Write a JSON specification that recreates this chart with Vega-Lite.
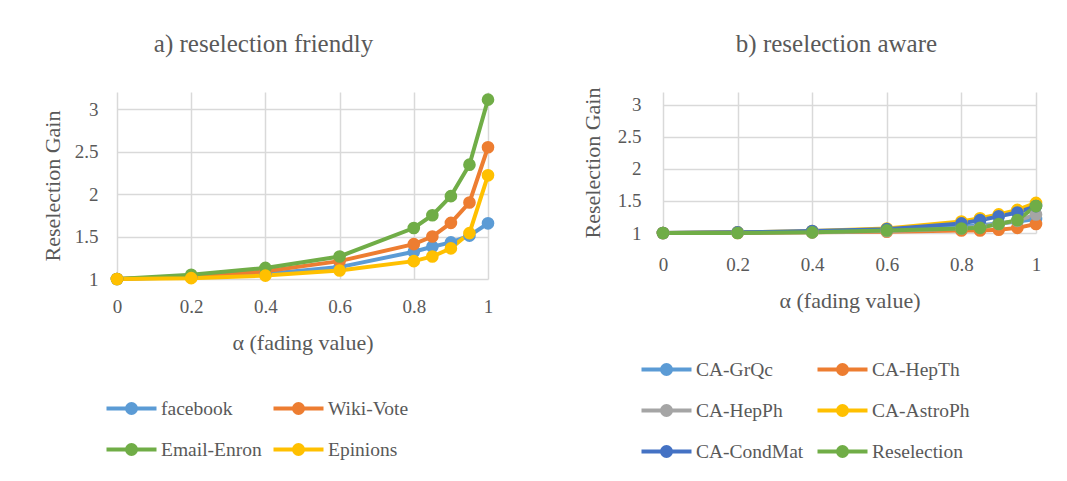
{
  "$schema": "https://vega.github.io/schema/vega-lite/v6.json",
  "background": "white",
  "padding": {"left": 41, "top": 31, "right": 5, "bottom": 5},
  "spacing": 175,
  "bounds": "flush",
  "datasets": {
    "friendly": [
      {"series": "facebook", "alpha": 0, "gain": 1.0},
      {"series": "facebook", "alpha": 0.2, "gain": 1.02},
      {"series": "facebook", "alpha": 0.4, "gain": 1.06},
      {"series": "facebook", "alpha": 0.6, "gain": 1.14},
      {"series": "facebook", "alpha": 0.8, "gain": 1.32},
      {"series": "facebook", "alpha": 0.85, "gain": 1.38},
      {"series": "facebook", "alpha": 0.9, "gain": 1.43},
      {"series": "facebook", "alpha": 0.95, "gain": 1.51},
      {"series": "facebook", "alpha": 1, "gain": 1.655},
      {"series": "Wiki-Vote", "alpha": 0, "gain": 1.0},
      {"series": "Wiki-Vote", "alpha": 0.2, "gain": 1.03},
      {"series": "Wiki-Vote", "alpha": 0.4, "gain": 1.09},
      {"series": "Wiki-Vote", "alpha": 0.6, "gain": 1.21},
      {"series": "Wiki-Vote", "alpha": 0.8, "gain": 1.41},
      {"series": "Wiki-Vote", "alpha": 0.85, "gain": 1.5},
      {"series": "Wiki-Vote", "alpha": 0.9, "gain": 1.66},
      {"series": "Wiki-Vote", "alpha": 0.95, "gain": 1.9},
      {"series": "Wiki-Vote", "alpha": 1, "gain": 2.55},
      {"series": "Email-Enron", "alpha": 0, "gain": 1.0},
      {"series": "Email-Enron", "alpha": 0.2, "gain": 1.05},
      {"series": "Email-Enron", "alpha": 0.4, "gain": 1.13},
      {"series": "Email-Enron", "alpha": 0.6, "gain": 1.265},
      {"series": "Email-Enron", "alpha": 0.8, "gain": 1.6},
      {"series": "Email-Enron", "alpha": 0.85, "gain": 1.75},
      {"series": "Email-Enron", "alpha": 0.9, "gain": 1.975},
      {"series": "Email-Enron", "alpha": 0.95, "gain": 2.345},
      {"series": "Email-Enron", "alpha": 1, "gain": 3.11},
      {"series": "Epinions", "alpha": 0, "gain": 1.0},
      {"series": "Epinions", "alpha": 0.2, "gain": 1.01},
      {"series": "Epinions", "alpha": 0.4, "gain": 1.04},
      {"series": "Epinions", "alpha": 0.6, "gain": 1.1},
      {"series": "Epinions", "alpha": 0.8, "gain": 1.21},
      {"series": "Epinions", "alpha": 0.85, "gain": 1.265},
      {"series": "Epinions", "alpha": 0.9, "gain": 1.36},
      {"series": "Epinions", "alpha": 0.95, "gain": 1.54},
      {"series": "Epinions", "alpha": 1, "gain": 2.22}
    ],
    "aware": [
      {"series": "CA-GrQc", "alpha": 0, "gain": 1.0},
      {"series": "CA-GrQc", "alpha": 0.2, "gain": 1.01},
      {"series": "CA-GrQc", "alpha": 0.4, "gain": 1.02},
      {"series": "CA-GrQc", "alpha": 0.6, "gain": 1.04},
      {"series": "CA-GrQc", "alpha": 0.8, "gain": 1.1},
      {"series": "CA-GrQc", "alpha": 0.85, "gain": 1.12},
      {"series": "CA-GrQc", "alpha": 0.9, "gain": 1.15},
      {"series": "CA-GrQc", "alpha": 0.95, "gain": 1.18},
      {"series": "CA-GrQc", "alpha": 1, "gain": 1.22},
      {"series": "CA-HepTh", "alpha": 0, "gain": 1.0},
      {"series": "CA-HepTh", "alpha": 0.2, "gain": 1.0},
      {"series": "CA-HepTh", "alpha": 0.4, "gain": 1.01},
      {"series": "CA-HepTh", "alpha": 0.6, "gain": 1.02},
      {"series": "CA-HepTh", "alpha": 0.8, "gain": 1.04},
      {"series": "CA-HepTh", "alpha": 0.85, "gain": 1.04},
      {"series": "CA-HepTh", "alpha": 0.9, "gain": 1.05},
      {"series": "CA-HepTh", "alpha": 0.95, "gain": 1.08},
      {"series": "CA-HepTh", "alpha": 1, "gain": 1.14},
      {"series": "CA-HepPh", "alpha": 0, "gain": 1.0},
      {"series": "CA-HepPh", "alpha": 0.2, "gain": 1.01},
      {"series": "CA-HepPh", "alpha": 0.4, "gain": 1.01},
      {"series": "CA-HepPh", "alpha": 0.6, "gain": 1.03},
      {"series": "CA-HepPh", "alpha": 0.8, "gain": 1.07},
      {"series": "CA-HepPh", "alpha": 0.85, "gain": 1.1},
      {"series": "CA-HepPh", "alpha": 0.9, "gain": 1.14},
      {"series": "CA-HepPh", "alpha": 0.95, "gain": 1.19},
      {"series": "CA-HepPh", "alpha": 1, "gain": 1.29},
      {"series": "CA-AstroPh", "alpha": 0, "gain": 1.0},
      {"series": "CA-AstroPh", "alpha": 0.2, "gain": 1.01},
      {"series": "CA-AstroPh", "alpha": 0.4, "gain": 1.03},
      {"series": "CA-AstroPh", "alpha": 0.6, "gain": 1.07},
      {"series": "CA-AstroPh", "alpha": 0.8, "gain": 1.18},
      {"series": "CA-AstroPh", "alpha": 0.85, "gain": 1.23},
      {"series": "CA-AstroPh", "alpha": 0.9, "gain": 1.29},
      {"series": "CA-AstroPh", "alpha": 0.95, "gain": 1.36},
      {"series": "CA-AstroPh", "alpha": 1, "gain": 1.47},
      {"series": "CA-CondMat", "alpha": 0, "gain": 1.0},
      {"series": "CA-CondMat", "alpha": 0.2, "gain": 1.01},
      {"series": "CA-CondMat", "alpha": 0.4, "gain": 1.03},
      {"series": "CA-CondMat", "alpha": 0.6, "gain": 1.06},
      {"series": "CA-CondMat", "alpha": 0.8, "gain": 1.15},
      {"series": "CA-CondMat", "alpha": 0.85, "gain": 1.2},
      {"series": "CA-CondMat", "alpha": 0.9, "gain": 1.26},
      {"series": "CA-CondMat", "alpha": 0.95, "gain": 1.32},
      {"series": "CA-CondMat", "alpha": 1, "gain": 1.42},
      {"series": "Reselection", "alpha": 0, "gain": 1.0},
      {"series": "Reselection", "alpha": 0.2, "gain": 1.0},
      {"series": "Reselection", "alpha": 0.4, "gain": 1.01},
      {"series": "Reselection", "alpha": 0.6, "gain": 1.04},
      {"series": "Reselection", "alpha": 0.8, "gain": 1.07},
      {"series": "Reselection", "alpha": 0.85, "gain": 1.08},
      {"series": "Reselection", "alpha": 0.9, "gain": 1.14},
      {"series": "Reselection", "alpha": 0.95, "gain": 1.2},
      {"series": "Reselection", "alpha": 1, "gain": 1.42}
    ]
  },
  "hconcat": [
    {
      "title": {"text": "a) reselection friendly", "dx": -39},
      "width": 371,
      "height": 187,
      "data": {"name": "friendly"},
      "encoding": {
        "x": {"field": "alpha", "type": "quantitative", "scale": {"domain": [0, 1], "nice": false},
              "axis": {"values": [0, 0.2, 0.4, 0.6, 0.8, 1], "format": "~g", "title": "α (fading value)", "labelPadding": 18, "titlePadding": 16}},
        "y": {"field": "gain", "type": "quantitative", "scale": {"domain": [1, 3.2], "nice": false, "zero": false},
              "axis": {"values": [1, 1.5, 2, 2.5, 3], "format": "~g", "title": "Reselection Gain", "labelPadding": 19, "titlePadding": 10}}
      },
      "layer": [
        {
          "mark": {"type": "line", "strokeWidth": 4},
          "encoding": {
            "stroke": {"field": "series", "type": "nominal",
                       "scale": {"domain": ["facebook", "Wiki-Vote", "Email-Enron", "Epinions"], "range": ["#5B9BD5", "#ED7D31", "#70AD47", "#FFC000"]},
                       "legend": {"title": null, "orient": "bottom", "direction": "horizontal", "columns": 2, "symbolType": "M-2,0H2M0.36,0A0.36,0.36,0,1,1,-0.36,0A0.36,0.36,0,1,1,0.36,0", "symbolSize": 625, "symbolStrokeWidth": 4, "labelOffset": 15, "columnPadding": 3, "rowPadding": 14, "offset": 41}}
          }
        },
        {
          "mark": {"type": "point", "filled": true, "size": 160, "opacity": 1},
          "encoding": {
            "fill": {"field": "series", "type": "nominal",
                     "scale": {"domain": ["facebook", "Wiki-Vote", "Email-Enron", "Epinions"], "range": ["#5B9BD5", "#ED7D31", "#70AD47", "#FFC000"]},
                     "legend": {"title": null, "orient": "bottom", "direction": "horizontal", "columns": 2, "symbolType": "M-2,0H2M0.36,0A0.36,0.36,0,1,1,-0.36,0A0.36,0.36,0,1,1,0.36,0", "symbolSize": 625, "symbolStrokeWidth": 4, "labelOffset": 15, "columnPadding": 3, "rowPadding": 14, "offset": 41}}
          }
        }
      ]
    },
    {
      "title": {"text": "b) reselection aware", "dx": -13, "dy": 5},
      "width": 373,
      "height": 141,
      "data": {"name": "aware"},
      "encoding": {
        "x": {"field": "alpha", "type": "quantitative", "scale": {"domain": [0, 1], "nice": false},
              "axis": {"values": [0, 0.2, 0.4, 0.6, 0.8, 1], "format": "~g", "title": "α (fading value)", "labelPadding": 22, "titlePadding": 16}},
        "y": {"field": "gain", "type": "quantitative", "scale": {"domain": [1, 3.2], "nice": false, "zero": false},
              "axis": {"values": [1, 1.5, 2, 2.5, 3], "format": "~g", "title": "Reselection Gain", "labelPadding": 22, "titlePadding": 13}}
      },
      "layer": [
        {
          "mark": {"type": "line", "strokeWidth": 4},
          "encoding": {
            "stroke": {"field": "series", "type": "nominal",
                       "scale": {"domain": ["CA-GrQc", "CA-HepTh", "CA-HepPh", "CA-AstroPh", "CA-CondMat", "Reselection"], "range": ["#5B9BD5", "#ED7D31", "#A5A5A5", "#FFC000", "#4472C4", "#70AD47"]},
                       "legend": {"title": null, "orient": "none", "legendX": -11, "legendY": 263, "direction": "horizontal", "columns": 2, "symbolType": "M-2,0H2M0.36,0A0.36,0.36,0,1,1,-0.36,0A0.36,0.36,0,1,1,0.36,0", "symbolSize": 625, "symbolStrokeWidth": 4, "labelOffset": 15, "columnPadding": 5, "rowPadding": 14}}
          }
        },
        {
          "mark": {"type": "point", "filled": true, "size": 160, "opacity": 1},
          "encoding": {
            "fill": {"field": "series", "type": "nominal",
                     "scale": {"domain": ["CA-GrQc", "CA-HepTh", "CA-HepPh", "CA-AstroPh", "CA-CondMat", "Reselection"], "range": ["#5B9BD5", "#ED7D31", "#A5A5A5", "#FFC000", "#4472C4", "#70AD47"]},
                     "legend": {"title": null, "orient": "none", "legendX": -11, "legendY": 263, "direction": "horizontal", "columns": 2, "symbolType": "M-2,0H2M0.36,0A0.36,0.36,0,1,1,-0.36,0A0.36,0.36,0,1,1,0.36,0", "symbolSize": 625, "symbolStrokeWidth": 4, "labelOffset": 15, "columnPadding": 5, "rowPadding": 14}}
          }
        }
      ]
    }
  ],
  "resolve": {
    "scale": {"stroke": "independent", "fill": "independent"},
    "legend": {"stroke": "independent", "fill": "independent"}
  },
  "config": {
    "font": "Liberation Serif",
    "view": {"stroke": null},
    "axis": {
      "domain": false, "ticks": false, "grid": true, "gridColor": "#d9d9d9", "gridWidth": 1.5,
      "labelFont": "Liberation Serif", "labelFontSize": 19, "labelColor": "#595959", "labelFlush": false, "labelOverlap": false,
      "titleFont": "Liberation Serif", "titleFontSize": 22, "titleFontWeight": "normal", "titleColor": "#595959"
    },
    "title": {"font": "Liberation Serif", "fontSize": 25, "fontWeight": "normal", "color": "#595959", "anchor": "middle", "offset": 35},
    "legend": {"labelFont": "Liberation Serif", "labelFontSize": 19.5, "labelColor": "#595959", "labelLimit": 300}
  }
}
